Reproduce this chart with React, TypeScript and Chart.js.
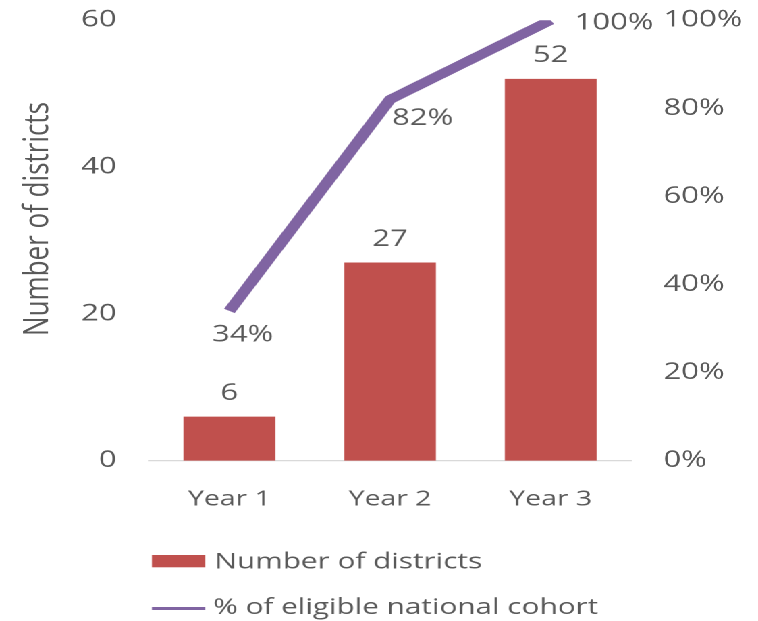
import React, { useEffect, useRef } from 'react';
import { Chart, registerables } from 'chart.js';

Chart.register(...registerables);

// ---- data ----
const categories = ['Year 1', 'Year 2', 'Year 3'];
const districtCounts = [6, 27, 52];
const cohortPercent = [34, 82, 100];
const leftTicks = [0, 20, 40, 60];
const rightTicks = [0, 20, 40, 60, 80, 100];
const seriesNames = ['Number of districts', '% of eligible national cohort'];
const axisTitle = 'Number of districts';

// ---- style ----
const STRETCH = 1.35;
const W = 758;
const H = 621;
const INNER_W = W / STRETCH;
const FONT = '"Open Sans", sans-serif';
const GRAY = '#595959';
const RED = '#C0504D';
const PURPLE = '#8064A2';

const decorPlugin = {
  id: 'decor',
  afterDatasetsDraw(chart: any, _args: any, opts: any) {
    const ctx = chart.ctx;
    ctx.save();
    ctx.fillStyle = GRAY;
    ctx.font = `23px ${FONT}`;
    ctx.textAlign = 'center';
    ctx.textBaseline = 'alphabetic';
    const barMeta = chart.getDatasetMeta(0);
    const barData = chart.data.datasets[0].data;
    barMeta.data.forEach((el: any, i: number) => {
      ctx.fillText(String(barData[i]), el.x, el.y - 16.7);
    });
    const lineMeta = chart.getDatasetMeta(1);
    const lineData = chart.data.datasets[1].data;
    lineMeta.data.forEach((el: any, i: number) => {
      const o = opts.lineOffsets[i];
      ctx.fillText(lineData[i] + '%', el.x + o.dx, el.y + o.dy);
    });
    ctx.restore();
  },
  afterDraw(chart: any, _args: any, opts: any) {
    const ctx = chart.ctx;
    const area = chart.chartArea;
    ctx.save();
    // axis title
    ctx.fillStyle = GRAY;
    ctx.font = `26px ${FONT}`;
    ctx.textAlign = 'center';
    ctx.textBaseline = 'alphabetic';
    ctx.translate(35.5, (area.top + area.bottom) / 2 - 21.5);
    ctx.rotate(-Math.PI / 2);
    ctx.fillText(opts.title, 0, 0);
    ctx.restore();

    // legend
    ctx.save();
    const x0 = area.left + 2.1;
    const bw = 39.5;
    ctx.fillStyle = RED;
    ctx.fillRect(x0, area.bottom + 94.3, bw, 12.3);
    ctx.strokeStyle = PURPLE;
    ctx.lineWidth = 3;
    ctx.beginPath();
    ctx.moveTo(x0, area.bottom + 147.8);
    ctx.lineTo(x0 + bw, area.bottom + 147.8);
    ctx.stroke();
    ctx.fillStyle = GRAY;
    ctx.font = `22px ${FONT}`;
    ctx.textAlign = 'left';
    ctx.textBaseline = 'alphabetic';
    ctx.fillText(opts.names[0], area.left + 48.5, area.bottom + 107.6);
    ctx.fillText(opts.names[1], area.left + 47.5, area.bottom + 153.5);
    ctx.restore();
  },
};

export default function App() {
  const ref = useRef<HTMLCanvasElement | null>(null);

  useEffect(() => {
    if (!ref.current) return;
    const chart = new Chart(ref.current, {
      type: 'bar',
      data: {
        labels: categories,
        datasets: [
          {
            type: 'bar',
            label: seriesNames[0],
            data: districtCounts,
            backgroundColor: RED,
            borderWidth: 0,
            barPercentage: 0.571,
            categoryPercentage: 1,
            yAxisID: 'y',
            order: 2,
          },
          {
            type: 'line',
            label: seriesNames[1],
            data: cohortPercent,
            borderColor: PURPLE,
            backgroundColor: PURPLE,
            borderWidth: 9,
            pointRadius: 0,
            tension: 0,
            borderJoinStyle: 'round',
            borderCapStyle: 'butt',
            yAxisID: 'y1',
            order: 1,
          },
        ] as any,
      },
      options: {
        animation: false,
        responsive: true,
        maintainAspectRatio: false,
        devicePixelRatio: 2,
        layout: { padding: { top: 20.2, bottom: 100.3, left: 0, right: 0 } },
        plugins: {
          legend: { display: false },
          tooltip: { enabled: false },
          decor: {
            title: axisTitle,
            names: seriesNames,
            lineOffsets: [
              { dx: 9.9, dy: 30.8 },
              { dx: 24.1, dy: 25.5 },
              { dx: 46.9, dy: 9.1 },
            ],
          },
        } as any,
        scales: {
          x: {
            grid: { display: false, drawTicks: false },
            border: { display: true, color: '#D9D9D9', width: 1.3 },
            ticks: { color: GRAY, font: { family: FONT, size: 21 }, padding: 26 },
            afterFit: (s: any) => {
              s.height = 60;
            },
          },
          y: {
            position: 'left',
            min: 0,
            max: 60,
            afterBuildTicks: (s: any) => {
              s.ticks = leftTicks.map((v) => ({ value: v }));
            },
            ticks: { color: GRAY, font: { family: FONT, size: 23 }, padding: 24 },
            grid: { display: false, drawTicks: false },
            border: { display: false },
            afterFit: (s: any) => {
              s.width = 110.3;
              s.paddingTop = 14;
              s.paddingBottom = 14;
            },
          },
          y1: {
            position: 'right',
            min: 0,
            max: 100,
            afterBuildTicks: (s: any) => {
              s.ticks = rightTicks.map((v) => ({ value: v }));
            },
            ticks: {
              color: GRAY,
              font: { family: FONT, size: 23 },
              padding: 24,
              callback: (v: any) => v + '%',
            },
            grid: { display: false, drawTicks: false },
            border: { display: false },
            afterFit: (s: any) => {
              s.width = 94.5;
              s.paddingTop = 14;
              s.paddingBottom = 14;
            },
          },
        } as any,
      },
      plugins: [decorPlugin as any],
    });
    return () => chart.destroy();
  }, []);

  return (
    <div
      style={{
        position: 'fixed',
        left: 0,
        top: 0,
        width: INNER_W,
        height: H,
        transform: `scaleX(${STRETCH})`,
        transformOrigin: '0 0',
        background: '#fff',
      }}
    >
      <canvas ref={ref} />
    </div>
  );
}
